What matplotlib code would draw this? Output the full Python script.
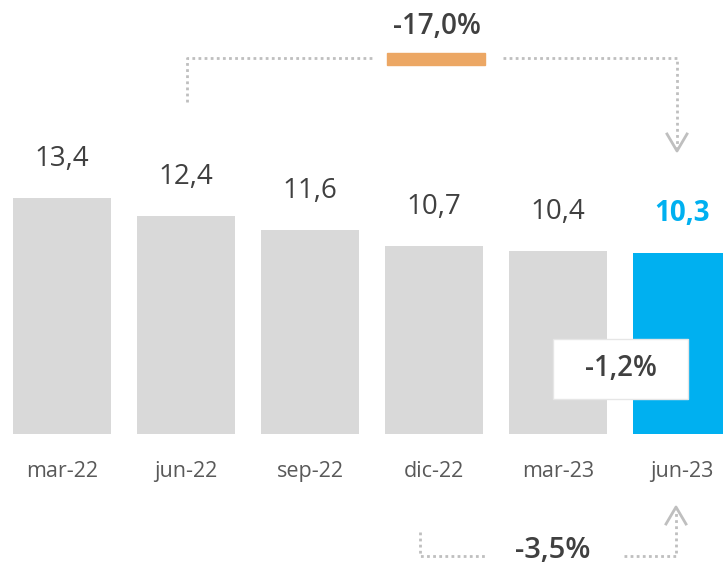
import matplotlib
matplotlib.use("Agg")
import matplotlib.pyplot as plt
from matplotlib.patches import Rectangle

plt.rcParams['font.family'] = ['Open Sans', 'DejaVu Sans']

periods = ['mar-22', 'jun-22', 'sep-22', 'dic-22', 'mar-23', 'jun-23']
values = [13.4, 12.4, 11.6, 10.7, 10.4, 10.3]
change_total = '-17,0%'
change_qoq = '-1,2%'
change_yoy = '-3,5%'

GREY = '#d9d9d9'
BLUE = '#00b0f0'
ORANGE = '#eca764'
TEXT = '#404040'
DOT = '#bfbfbf'

W, H = 723, 565
fig = plt.figure(figsize=(W / 100, H / 100), dpi=100)
ax = fig.add_axes([0, 0, 1, 1])

# value 0 sits at pixel row 434, 17.6 px per unit
ax.set_xlim(-0.5, (W - 62) / 124)
ax.set_ylim((434 - H) / 17.6, 434 / 17.6)
ax.axis('off')

x = list(range(len(values)))
colors = [GREY] * (len(values) - 1) + [BLUE]
ax.bar(x, values, width=0.79, color=colors)

def fmt(v):
    return ('%.1f' % v).replace('.', ',')

for i, v in enumerate(values):
    last = i == len(values) - 1
    ax.annotate(fmt(v), (i, v), xytext=(0, 28), textcoords='offset points',
                ha='center', va='center', fontsize=20,
                color=BLUE if last else TEXT,
                fontweight='bold' if last else 'normal')
    ax.annotate(periods[i], (i, 0), xytext=(0, -27), textcoords='offset points',
                ha='center', va='center', fontsize=15.5, color='#595959')


def px(xp, yp):
    return xp / W, 1 - yp / H


def dotted(points):
    xs, ys = zip(*[px(a, b) for a, b in points])
    fig.add_artist(plt.Line2D(xs, ys, color=DOT, lw=2, ls=(0, (1, 1.2)),
                              transform=fig.transFigure))


def chevron(xp, yp, down):
    d = -17 if down else 17
    xs, ys = zip(*[px(xp - 10, yp + d), px(xp, yp), px(xp + 10, yp + d)])
    fig.add_artist(plt.Line2D(xs, ys, color=DOT, lw=2,
                              transform=fig.transFigure))


# top bracket: first to last quarter
dotted([(187, 102), (187, 58), (372, 58)])
dotted([(503, 58), (677, 58), (677, 148)])
chevron(677, 151, down=True)
fig.add_artist(Rectangle(px(387, 65), 98 / W, 12 / H, color=ORANGE,
                         transform=fig.transFigure))
fig.text(*px(437, 27), change_total, ha='center', va='center', fontsize=20,
         color=TEXT, fontweight='semibold')

# bottom bracket: year on year
dotted([(420, 532), (420, 556), (487, 556)])
dotted([(624, 556), (676, 556), (676, 510)])
chevron(676, 507, down=False)
fig.text(*px(553, 551), change_yoy, ha='center', va='center', fontsize=21,
         color=TEXT, fontweight='semibold')

# quarter on quarter box
fig.add_artist(Rectangle(px(553, 399), 135 / W, 60 / H, facecolor='white',
                         edgecolor='#e6e6e6', lw=1, transform=fig.transFigure))
fig.text(*px(621, 369), change_qoq, ha='center', va='center', fontsize=20,
         color=TEXT, fontweight='semibold')

fig.savefig('out.png', dpi=100)
